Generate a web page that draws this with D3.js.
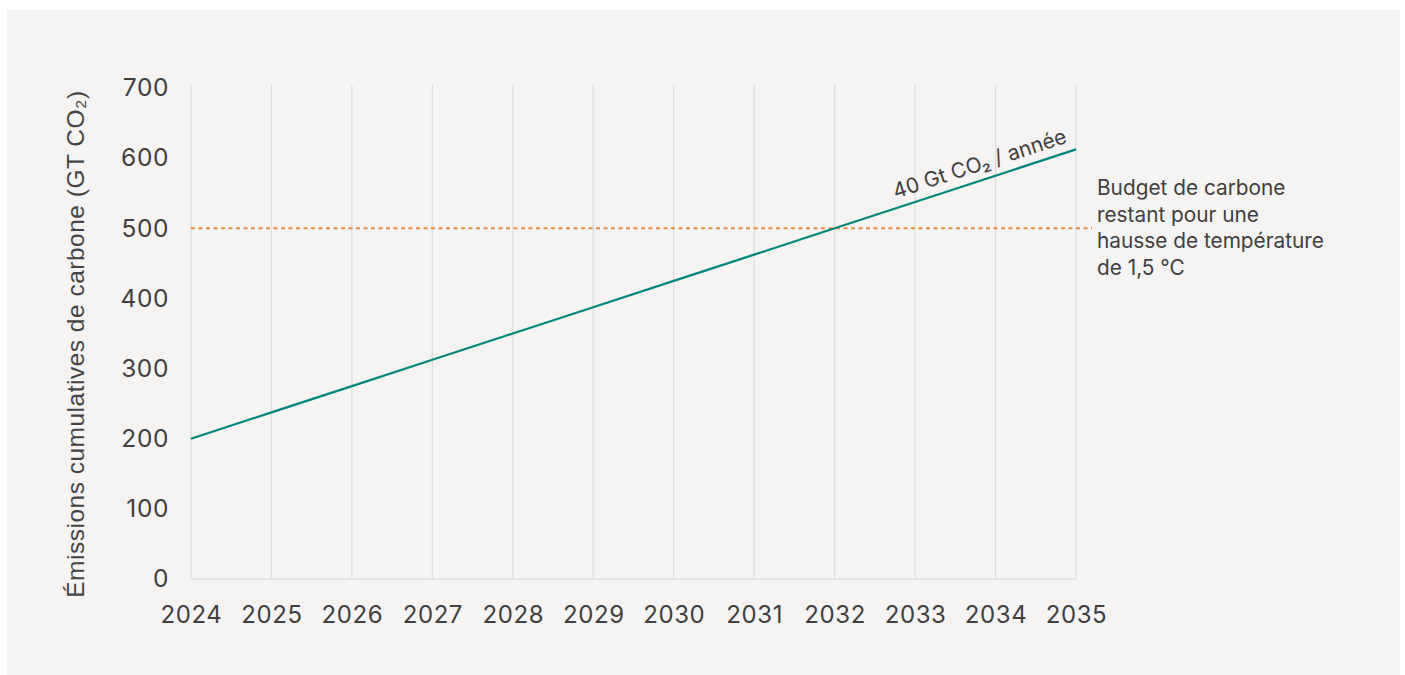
<!DOCTYPE html>
<html>
<head>
<meta charset="utf-8">
<script src="https://cdn.jsdelivr.net/npm/d3@7"></script>
<style>
  html, body { margin: 0; padding: 0; background: #ffffff; }
  svg { display: block; }
</style>
</head>
<body>
<svg id="chart" width="1405" height="675"></svg>
<script>
// Cumulative CO2 emissions, 2024–2035
const years = [2024, 2025, 2026, 2027, 2028, 2029, 2030, 2031, 2032, 2033, 2034, 2035];
const cumulative = [200, 237.5, 275, 312.5, 350, 387.5, 425, 462.5, 500, 537.5, 575, 612.5];
const yTicks = [0, 100, 200, 300, 400, 500, 600, 700];
const budget = 500;
const budgetLabel = ["Budget de carbone", "restant pour une", "hausse de température", "de 1,5 °C"];
const rateLabel = "40 Gt CO\u2082 / année";
const yTitle = "Émissions cumulatives de carbone (GT CO\u2082)";

const svg = d3.select("#chart");
const m = { left: 191, right: 1076, top: 88, bottom: 579 };

// panel background
svg.append("rect").attr("x", 7).attr("y", 10).attr("width", 1393).attr("height", 665).attr("fill", "#f5f4f2");

const x = d3.scaleLinear().domain([2024, 2035]).range([m.left, m.right]);
const y = d3.scaleLinear().domain([0, 700]).range([m.bottom, m.top]);

const textColor = "#3f3f3f";
const tickFont = "Inter, 'Noto Sans', sans-serif";

// vertical gridlines at every year
svg.append("g")
  .selectAll("line")
  .data(years)
  .join("line")
  .attr("x1", d => x(d)).attr("x2", d => x(d))
  .attr("y1", 85).attr("y2", m.bottom)
  .attr("stroke", "#dddcda").attr("stroke-width", 1.2);

// baseline
svg.append("line")
  .attr("x1", m.left).attr("x2", m.right)
  .attr("y1", y(0)).attr("y2", y(0))
  .attr("stroke", "#dddcda").attr("stroke-width", 1.5);

// x axis labels
const xAxis = d3.axisBottom(x).tickValues(years).tickFormat(d3.format("d")).tickSize(0).tickPadding(27);
const gx = svg.append("g").attr("transform", `translate(0,${m.bottom})`).call(xAxis);
gx.select(".domain").remove();
gx.selectAll("text")
  .attr("font-family", tickFont).attr("font-size", 24).attr("letter-spacing", 0.6).attr("fill", textColor);

// y axis labels
const yAxis = d3.axisLeft(y).tickValues(yTicks).tickSize(0).tickPadding(22);
const gy = svg.append("g").attr("transform", `translate(${m.left},0)`).call(yAxis);
gy.select(".domain").remove();
gy.selectAll("text")
  .attr("font-family", tickFont).attr("font-size", 24.5).attr("letter-spacing", 0.6).attr("fill", textColor);

// y axis title
svg.append("text")
  .attr("transform", `translate(84,344) rotate(-90)`)
  .attr("text-anchor", "middle")
  .attr("font-family", "'Liberation Sans', Arial, sans-serif")
  .attr("font-size", 24.5)
  .attr("letter-spacing", 0.5)
  .attr("fill", "#444")
  .text(yTitle);

// remaining-budget threshold
svg.append("line")
  .attr("x1", m.left).attr("x2", 1092)
  .attr("y1", y(budget)).attr("y2", y(budget))
  .attr("stroke", "#ec8a3c").attr("stroke-width", 2)
  .attr("stroke-dasharray", "4,3.5");

// cumulative emissions line
const line = d3.line().x((d, i) => x(years[i])).y(d => y(d));
svg.append("path")
  .datum(cumulative)
  .attr("d", line)
  .attr("fill", "none")
  .attr("stroke", "#00877a")
  .attr("stroke-width", 2.2);

// rate annotation along the line
const x0 = x(years[0]), y0 = y(cumulative[0]);
const x1 = x(years[years.length - 1]), y1 = y(cumulative[cumulative.length - 1]);
const angle = Math.atan2(y1 - y0, x1 - x0) * 180 / Math.PI;
svg.append("text")
  .attr("transform", `translate(${x1 - 8},${y1 - 7}) rotate(${angle})`)
  .attr("text-anchor", "end")
  .attr("font-family", tickFont)
  .attr("font-size", 21)
  .attr("fill", textColor)
  .text(rateLabel);

// threshold annotation
const note = svg.append("text")
  .attr("font-family", tickFont)
  .attr("font-size", 20.8)
  .attr("fill", textColor);
budgetLabel.forEach((t, i) => {
  note.append("tspan").attr("x", 1097).attr("y", 195 + i * 26.5).text(t);
});
</script>
</body>
</html>
